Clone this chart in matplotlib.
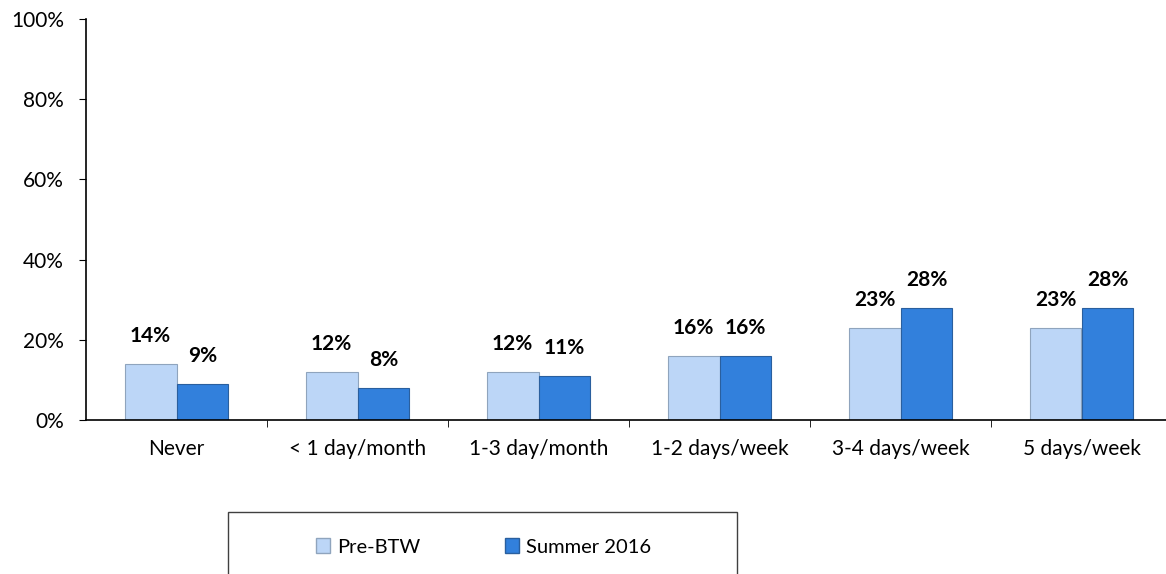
import numpy as np
import matplotlib
matplotlib.use("Agg")
import matplotlib.pyplot as plt
from matplotlib.patches import Rectangle, Patch

categories = ["Never", "< 1 day/month", "1-3 day/month", "1-2 days/week",
              "3-4 days/week", "5 days/week"]
pre_btw = [14, 12, 12, 16, 23, 23]
summer_2016 = [9, 8, 11, 16, 28, 28]
series_names = ["Pre-BTW", "Summer 2016"]

LIGHT = "#bcd6f7"
DARK = "#3280dc"

plt.rcParams['font.family'] = ['Lato', 'DejaVu Sans']

W, H = 1166, 574
fig = plt.figure(figsize=(W / 100, H / 100), dpi=100)

# axes extends a bit past the right edge, like the original
ax = fig.add_axes([86 / W, 1 - 420 / H, 1086 / W, 401 / H])

x = np.arange(len(categories))
bw = 0.287
b1 = ax.bar(x - bw / 2, pre_btw, bw, color=LIGHT, edgecolor="#8fa4bd", linewidth=0.8)
b2 = ax.bar(x + bw / 2, summer_2016, bw, color=DARK, edgecolor="#2a5f9e", linewidth=0.8)

for bars, vals in ((b1, pre_btw), (b2, summer_2016)):
    for r, v in zip(bars, vals):
        ax.annotate("%d%%" % v, (r.get_x() + r.get_width() / 2, v),
                    xytext=(0, 13), textcoords="offset points",
                    ha="center", va="bottom", fontsize=15, fontweight="bold")

ax.set_xlim(-0.5, len(categories) - 0.5)
ax.set_ylim(0, 100)
ax.set_yticks(np.arange(0, 101, 20))
ax.set_yticklabels(["%d%%" % t for t in range(0, 101, 20)], fontsize=15)
ax.set_xticks(x)
ax.set_xticklabels(categories, fontsize=15)
ax.tick_params(axis="x", length=0, pad=14)
ax.set_xticks(np.arange(0.5, len(categories) - 0.5, 1), minor=True)
ax.tick_params(axis="x", which="minor", length=5, direction="out", color="black")
ax.tick_params(axis="y", length=5, direction="out", pad=11)
for side in ("top", "right"):
    ax.spines[side].set_visible(False)
for side in ("left", "bottom"):
    ax.spines[side].set_color("black")
    ax.spines[side].set_linewidth(1.2)

# legend box, cut off at the bottom edge
fig.patches.append(Rectangle((228 / W, -0.05), (737 - 228) / W, 0.05 + (574 - 512) / H,
                             transform=fig.transFigure, fill=False,
                             edgecolor="#404040", linewidth=1.0))
handles = [Patch(facecolor=LIGHT, edgecolor="#8fa4bd"),
           Patch(facecolor=DARK, edgecolor="#2a5f9e")]
fig.legend(handles, series_names, ncol=2, frameon=False, fontsize=14.5,
           loc="center", bbox_to_anchor=(484 / W, 1 - 547 / H),
           handlelength=0.7, handleheight=0.7, handletextpad=0.35, columnspacing=4.2)

fig.savefig("out.png", dpi=100)
